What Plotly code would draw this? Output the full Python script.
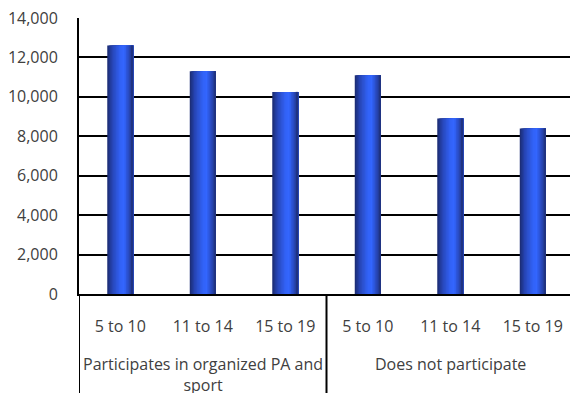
import plotly.graph_objects as go

# Age bands shown under each bar, and the two participation groups
age_bands = ["5 to 10", "11 to 14", "15 to 19"]
groups = ["Participates in organized PA and<br>sport", "Does not participate"]

# Counts per age band for each group
participates = [12600, 11300, 10250]
not_participating = [11100, 8900, 8400]

y_ticks = [0, 2000, 4000, 6000, 8000, 10000, 12000, 14000]

values = participates + not_participating
labels = age_bands * len(groups)
xs = list(range(len(values)))

BAR_W = 0.315
N_STRIPS = 18

# horizontal shading across each bar: dark edges, bright just right of centre
stops = [
    (0.00, (27, 42, 110)),
    (0.18, (38, 68, 178)),
    (0.50, (50, 98, 246)),
    (0.65, (51, 102, 255)),
    (0.88, (38, 66, 170)),
    (1.00, (29, 46, 118)),
]


def shade(t):
    for (p0, c0), (p1, c1) in zip(stops, stops[1:]):
        if p0 <= t <= p1:
            f = (t - p0) / (p1 - p0)
            return "rgb(%d,%d,%d)" % tuple(round(a + (b - a) * f) for a, b in zip(c0, c1))
    return "rgb(%d,%d,%d)" % stops[-1][1]


fig = go.Figure()
for k in range(N_STRIPS):
    t = (k + 0.5) / N_STRIPS
    fig.add_trace(go.Bar(
        x=xs,
        y=values,
        width=BAR_W * (N_STRIPS - k) / N_STRIPS,
        offset=-BAR_W / 2 + BAR_W * k / N_STRIPS,
        marker=dict(color=shade(t), line=dict(width=0)),
        showlegend=False,
        hoverinfo="skip" if k else "x+y",
    ))

FONT = "Open Sans, Arial, sans-serif"
GREY = "#404040"

n = len(values)
fig.update_layout(
    width=570,
    height=393,
    margin=dict(l=79, r=0, t=18, b=99),
    barmode="overlay",
    paper_bgcolor="white",
    plot_bgcolor="white",
    font=dict(family=FONT, size=16, color=GREY),
    xaxis=dict(
        range=[-0.5, -0.5 + 491 / 82.5],
        tickvals=xs,
        ticktext=labels,
        showgrid=False,
        zeroline=False,
        showline=True,
        linecolor="black",
        linewidth=2,
        ticks="",
        ticklabelstandoff=17,
        tickfont=dict(family=FONT, size=16, color=GREY),
    ),
    yaxis=dict(
        range=[0, 14000],
        tickvals=y_ticks,
        tickformat=",d",
        showgrid=True,
        gridcolor="black",
        gridwidth=2,
        zeroline=False,
        showline=True,
        linecolor="black",
        linewidth=2,
        ticks="",
        ticklabelstandoff=16,
        tickfont=dict(family=FONT, size=16, color=GREY),
    ),
)

# group labels and separators below the age bands
per_group = len(age_bands)
for g, name in enumerate(groups):
    centre = g * per_group + (per_group - 1) / 2
    fig.add_annotation(
        x=centre, xref="x", y=0, yref="paper",
        text=name, showarrow=False,
        yanchor="top", yshift=-57,
        font=dict(family=FONT, size=16, color=GREY),
    )
for g in range(len(groups) + 1):
    edge = g * per_group - 0.5
    fig.add_shape(
        type="line", xref="x", yref="paper",
        x0=edge, x1=edge, y0=0, y1=-0.4,
        line=dict(color="black", width=2),
    )

fig.write_html("out.html")
